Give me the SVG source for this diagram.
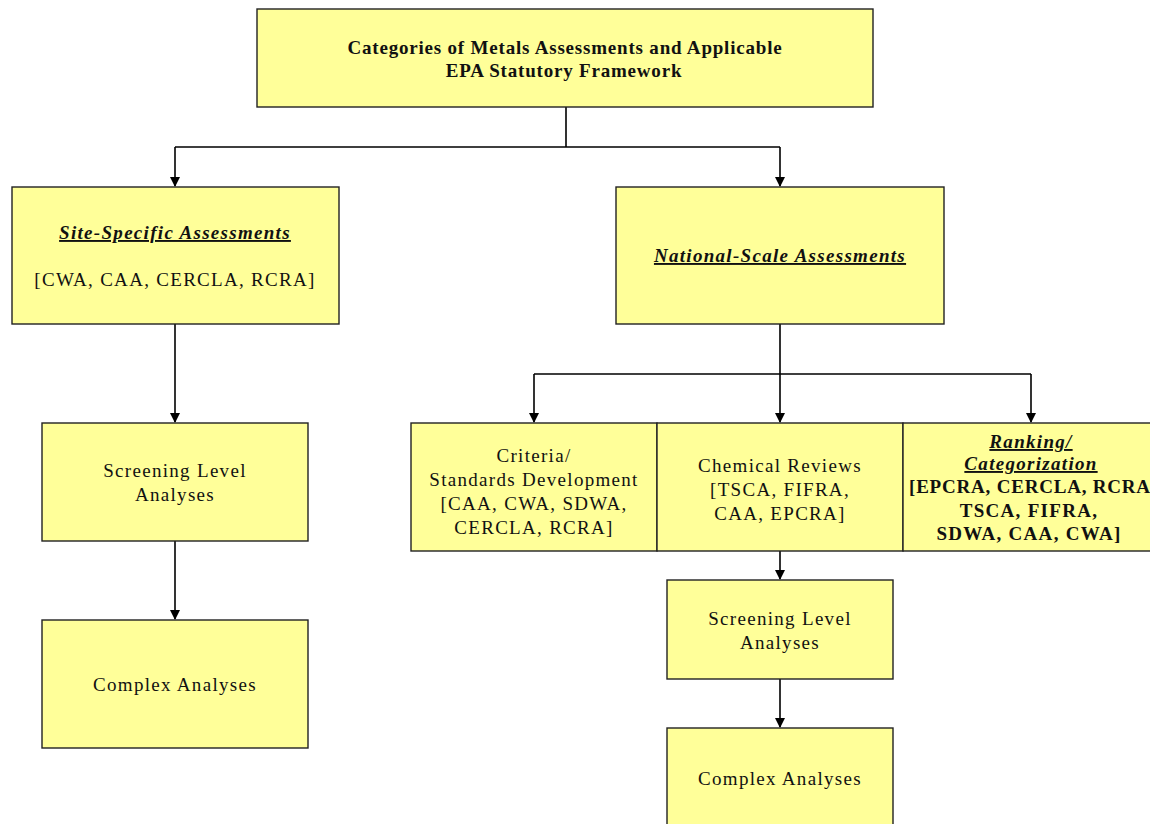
<svg xmlns="http://www.w3.org/2000/svg" width="1150" height="824" viewBox="0 0 1150 824">
<defs>
<marker id="ah" markerWidth="10" markerHeight="10" refX="9" refY="5" orient="auto" markerUnits="userSpaceOnUse">
<path d="M0,0 L10,5 L0,10 z" fill="#000"/>
</marker>
<style>
.box{fill:#FFFF99;stroke:#222;stroke-width:1.4}
.t{font-size:19px;fill:#111;text-anchor:middle;letter-spacing:1.3px}
.b{font-weight:bold}
.i{font-style:italic;text-decoration:underline}
.c{fill:none;stroke:#000;stroke-width:1.6}
</style>
</defs>
<rect width="1150" height="824" fill="#fff"/>
<g id="connectors">
<path class="c" d="M566,107 V147 M175,147 H780"/>
<path class="c" d="M175,147 V186" marker-end="url(#ah)"/>
<path class="c" d="M780,147 V186" marker-end="url(#ah)"/>
<path class="c" d="M175,324 V422" marker-end="url(#ah)"/>
<path class="c" d="M175,541 V619" marker-end="url(#ah)"/>
<path class="c" d="M780,324 V374 M534,374 H1031"/>
<path class="c" d="M534,374 V422" marker-end="url(#ah)"/>
<path class="c" d="M780,374 V422" marker-end="url(#ah)"/>
<path class="c" d="M1031,374 V422" marker-end="url(#ah)"/>
<path class="c" d="M780,551 V579" marker-end="url(#ah)"/>
<path class="c" d="M780,679 V727" marker-end="url(#ah)"/>
</g>
<g font-family="Liberation Serif, Times New Roman, Tinos, DejaVu Serif, serif">
<g id="top">
<rect class="box" x="257" y="9" width="616" height="98"/>
<text class="t b" x="565" y="54" style="letter-spacing:0.8px">Categories of Metals Assessments and Applicable</text>
<text class="t b" x="564" y="77" style="letter-spacing:0.8px">EPA Statutory Framework</text>
</g>
<g id="site">
<rect class="box" x="12" y="187" width="327" height="137"/>
<text class="t b i" x="175" y="239">Site-Specific Assessments</text>
<text class="t" x="175" y="286">[CWA, CAA, CERCLA, RCRA]</text>
</g>
<g id="national">
<rect class="box" x="616" y="187" width="328" height="137"/>
<text class="t b i" x="780" y="262">National-Scale Assessments</text>
</g>
<g id="screen-left">
<rect class="box" x="42" y="423" width="266" height="118"/>
<text class="t" x="175" y="477">Screening Level</text>
<text class="t" x="175" y="501">Analyses</text>
</g>
<g id="complex-left">
<rect class="box" x="42" y="620" width="266" height="128"/>
<text class="t" x="175" y="691">Complex Analyses</text>
</g>
<g id="criteria">
<rect class="box" x="411" y="423" width="246" height="128"/>
<text class="t" x="534" y="462">Criteria/</text>
<text class="t" x="534" y="486">Standards Development</text>
<text class="t" x="534" y="510">[CAA, CWA, SDWA,</text>
<text class="t" x="534" y="534">CERCLA, RCRA]</text>
</g>
<g id="chemical">
<rect class="box" x="657" y="423" width="246" height="128"/>
<text class="t" x="780" y="472">Chemical Reviews</text>
<text class="t" x="780" y="496">[TSCA, FIFRA,</text>
<text class="t" x="780" y="520">CAA, EPCRA]</text>
</g>
<g id="ranking">
<rect class="box" x="903" y="423" width="260" height="128"/>
<text class="t b i" x="1031" y="448">Ranking/</text>
<text class="t b i" x="1031" y="470">Categorization</text>
<text class="t b" x="909" y="493" style="text-anchor:start;letter-spacing:0.8px">[EPCRA, CERCLA, RCRA</text>
<text class="t b" x="1029" y="517">TSCA, FIFRA,</text>
<text class="t b" x="1029" y="540">SDWA, CAA, CWA]</text>
</g>
<g id="screen-right">
<rect class="box" x="667" y="580" width="226" height="99"/>
<text class="t" x="780" y="625">Screening Level</text>
<text class="t" x="780" y="649">Analyses</text>
</g>
<g id="complex-right">
<rect class="box" x="667" y="728" width="226" height="110"/>
<text class="t" x="780" y="785">Complex Analyses</text>
</g>
</g>
</svg>
